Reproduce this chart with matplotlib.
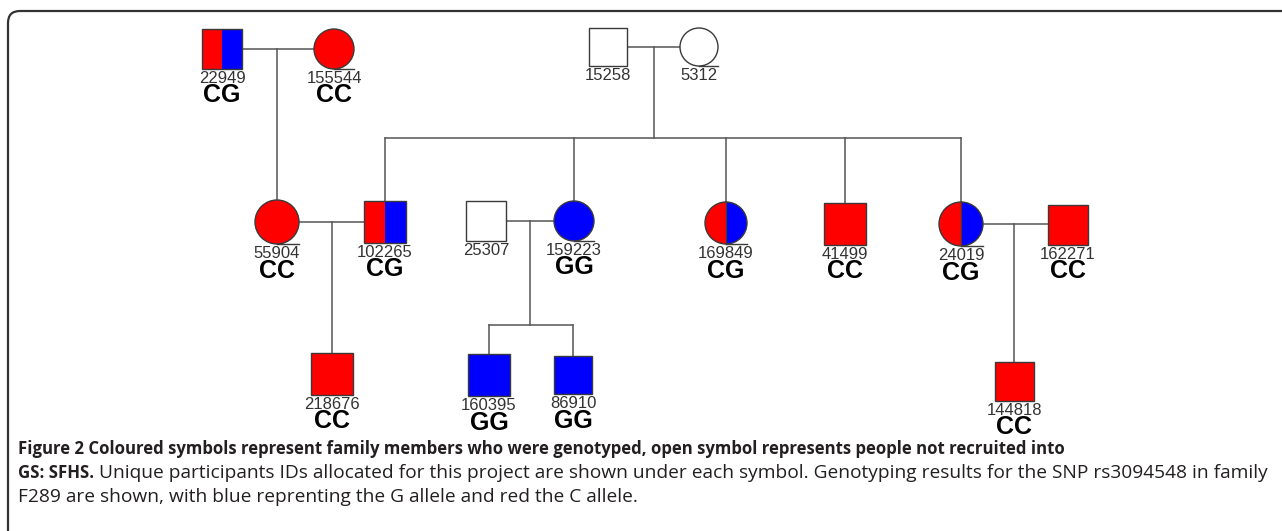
import matplotlib
matplotlib.use("Agg")
import matplotlib.pyplot as plt
from matplotlib.patches import Rectangle, Circle, Wedge, FancyBboxPatch

# pedigree members (F289)
ids = ["22949", "155544", "15258", "5312", "55904", "102265", "25307", "159223",
       "169849", "41499", "24019", "162271", "218676", "160395", "86910", "144818"]
sex = ["M", "F", "M", "F", "F", "M", "M", "F",
       "F", "M", "F", "M", "M", "M", "M", "M"]
genotype = ["CG", "CC", None, None, "CC", "CG", None, "GG",
            "CG", "CC", "CG", "CC", "CC", "GG", "GG", "CC"]

# layout in pixel space (centre x, centre y, half size)
layout = {
    "22949": (222, 49, 20), "155544": (334, 49, 20),
    "15258": (608, 47, 19), "5312": (699, 47, 19),
    "55904": (277, 222, 22), "102265": (385, 222, 21),
    "25307": (486, 221, 20), "159223": (574, 221, 20),
    "169849": (726, 223, 21), "41499": (845, 224, 21),
    "24019": (961, 224, 22), "162271": (1068, 225, 20),
    "218676": (332, 374, 21), "160395": (489, 375, 21),
    "86910": (573, 375, 19), "144818": (1014, 381.5, 19.5),
}
couples = [("22949", "155544"), ("15258", "5312"), ("55904", "102265"),
           ("25307", "159223"), ("24019", "162271")]
children = {
    ("22949", "155544"): ["55904"],
    ("15258", "5312"): ["102265", "159223", "169849", "41499", "24019"],
    ("55904", "102265"): ["218676"],
    ("25307", "159223"): ["160395", "86910"],
    ("24019", "162271"): ["144818"],
}
sib_y = {("15258", "5312"): 138, ("25307", "159223"): 325}

RED = "#ff0000"
BLUE = "#0000ff"
EDGE = "#3a3a3a"
LINE = "#555555"

fig = plt.figure(figsize=(12.82, 5.31), dpi=100)
ax = fig.add_axes([0, 0, 1, 1])
ax.set_xlim(0, 1282)
ax.set_ylim(531, 0)
ax.axis("off")

# frame with rounded top-left corner
ax.add_patch(FancyBboxPatch((8, 11), 1400, 600, boxstyle="round,pad=0,rounding_size=12",
                            fill=False, ec="#333333", lw=1.6, zorder=1))


def draw_member(i):
    cx, cy, h = layout[ids[i]]
    g = genotype[i]
    if g is None:
        left = right = "white"
    elif g == "CC":
        left = right = RED
    elif g == "GG":
        left = right = BLUE
    else:
        left, right = RED, BLUE
    if sex[i] == "M":
        ax.add_patch(Rectangle((cx - h, cy - h), h, 2 * h, fc=left, ec="none", zorder=3))
        ax.add_patch(Rectangle((cx, cy - h), h, 2 * h, fc=right, ec="none", zorder=3))
        ax.add_patch(Rectangle((cx - h, cy - h), 2 * h, 2 * h, fill=False, ec=EDGE, lw=1.0, zorder=4))
    else:
        ax.add_patch(Wedge((cx, cy), h, 90, 270, fc=left, ec="none", zorder=3))
        ax.add_patch(Wedge((cx, cy), h, -90, 90, fc=right, ec="none", zorder=3))
        ax.add_patch(Circle((cx, cy), h, fill=False, ec=EDGE, lw=1.0, zorder=4))
        if left != right:
            ax.plot([cx, cx], [cy - h, cy + h], color=EDGE, lw=0.9, zorder=4)
        ax.plot([cx, cx + h], [cy + h, cy + h], color=EDGE, lw=1.0, zorder=4)
    ax.text(cx, cy + h + 14, ids[i], ha="center", va="baseline", fontsize=12,
            family="Liberation Sans", color="#333333", zorder=5)
    if g is not None:
        ax.text(cx, cy + h + 33.5, g, ha="center", va="baseline", fontsize=18,
                family="Liberation Sans", weight="bold", color="black", zorder=5)


# marriage and descent lines
for a, b in couples:
    ax_, ay, ah = layout[a]
    bx, by, bh = layout[b]
    ax.plot([ax_ + ah, bx - bh], [ay, ay], color=LINE, lw=1.1, zorder=2)
    mx = (ax_ + ah + bx - bh) / 2
    kids = children[(a, b)]
    if len(kids) == 1:
        kx, ky, kh = layout[kids[0]]
        ax.plot([kx, kx], [ay, ky - kh], color=LINE, lw=1.1, zorder=2)
    else:
        sy = sib_y[(a, b)]
        ax.plot([mx, mx], [ay, sy], color=LINE, lw=1.1, zorder=2)
        xs = [layout[k][0] for k in kids]
        ax.plot([min(xs), max(xs)], [sy, sy], color=LINE, lw=1.1, zorder=2)
        for k in kids:
            kx, ky, kh = layout[k]
            ax.plot([kx, kx], [sy, ky - kh], color=LINE, lw=1.1, zorder=2)

for i in range(len(ids)):
    draw_member(i)

# caption
cap_font = "Open Sans"
cap_col = "#231f20"
line1 = ("Figure 2 Coloured symbols represent family members who were genotyped, "
         "open symbol represents people not recruited into")
line2a = "GS: SFHS."
line2b = ("Unique participants IDs allocated for this project are shown under "
          "each symbol. Genotyping results for the SNP rs3094548 in family")
line3 = "F289 are shown, with blue reprenting the G allele and red the C allele."

t1 = ax.text(18, 449, line1, ha="left", va="center", fontsize=12.5, weight="bold",
             family=cap_font, color=cap_col)
t2a = ax.text(18, 473, line2a, ha="left", va="center", fontsize=12.5, weight="bold",
              family=cap_font, color=cap_col)
fig.canvas.draw()
inv = ax.transData.inverted()


def xr(t):
    bb = t.get_window_extent()
    return inv.transform((bb.x1, bb.y0))[0]


# fit bold line width to the reference text width
t1.set_fontsize(12.5 * (1062 - 18) / (xr(t1) - 18))
t2a.set_fontsize(t1.get_fontsize())
fig.canvas.draw()
x0 = xr(t2a) + 5
t2b = ax.text(x0, 473, line2b, ha="left", va="center", fontsize=12.5,
              family=cap_font, color=cap_col)
fig.canvas.draw()
fs = 12.5 * (1270 - x0) / (xr(t2b) - x0)
t2b.set_fontsize(fs)
ax.text(18, 497, line3, ha="left", va="center", fontsize=fs,
        family=cap_font, color=cap_col)

fig.savefig("out.png", dpi=100)
